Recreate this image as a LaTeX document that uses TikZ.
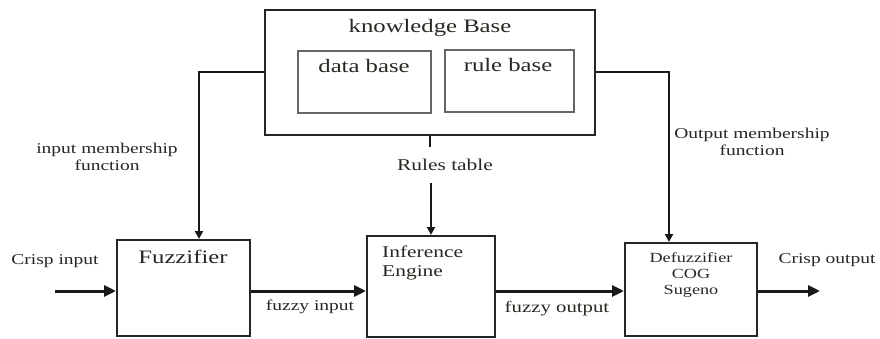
\documentclass[tikz,border=0pt]{standalone}
\usepackage{fontspec}
\setmainfont{Liberation Serif}[FakeStretch=1.3]
\usetikzlibrary{arrows.meta,calc}
\definecolor{txt}{HTML}{2A2622}
\begin{document}
\begin{tikzpicture}[x=1pt,y=-1pt,
  box/.style={draw=black!85,line width=2pt,inner sep=0pt},
  inbox/.style={draw=black!60,line width=1.2pt,inner sep=0pt},
  lbl/.style={text=txt,inner sep=0pt,anchor=base},
  flow/.style={draw=black!90,line width=3pt,-{Triangle[length=12pt,width=11pt]}},
  feed/.style={draw=black!90,line width=2pt,-{Triangle[length=8pt,width=8pt]}},
  wire/.style={draw=black!90,line width=2pt}]
\useasboundingbox (0,0) rectangle (880,339);

% knowledge base with its two stores
\node[box,minimum width=330pt,minimum height=125pt] (KB) at (430,72.5) {};
\node[inbox,minimum width=133pt,minimum height=62pt] (DB) at (364.5,82) {};
\node[inbox,minimum width=129pt,minimum height=62pt] (RB) at (509.5,81) {};
\node[lbl,font=\fontsize{19}{21}\selectfont] (KBt) at (430,33) {knowledge Base};
\node[lbl,font=\fontsize{19}{21}\selectfont] (DBt) at (364,73) {data base};
\node[lbl,font=\fontsize{19}{21}\selectfont] (RBt) at (508,72) {rule base};

% processing blocks
\node[box,minimum width=133pt,minimum height=96pt] (FZ) at (183.5,288) {};
\node[box,minimum width=128pt,minimum height=101pt] (IE) at (431,286.5) {};
\node[box,minimum width=132pt,minimum height=93pt] (DF) at (691,289.5) {};
\node[lbl,font=\fontsize{19}{21}\selectfont] (FZt) at (183,263) {Fuzzifier};
\node[text=txt,inner sep=0pt,anchor=west,align=left,font=\fontsize{16.5}{19}\selectfont] (IEt) at (382,262.6) {Inference\\Engine};
\node[text=txt,inner sep=0pt,align=center,font=\fontsize{14}{16}\selectfont] (DFt) at (691,274.7) {Defuzzifier\\COG\\Sugeno};

% side labels
\node[text=txt,inner sep=0pt,align=center,font=\fontsize{15}{17}\selectfont] (IM) at (107,156.4) {input membership\\function};
\node[text=txt,inner sep=0pt,align=center,font=\fontsize{15}{17}\selectfont] (OM) at (752,141.4) {Output membership\\function};
\node[lbl,font=\fontsize{16.5}{19}\selectfont,inner ysep=12pt] (RT) at (445,171) {Rules table};
\node[lbl,font=\fontsize{15}{17}\selectfont] (CI) at (55,264) {Crisp input};
\node[lbl,font=\fontsize{15}{17}\selectfont] (FI) at (310,310) {fuzzy input};
\node[lbl,font=\fontsize{16}{18}\selectfont] (FO) at (557,312) {fuzzy output};
\node[lbl,font=\fontsize{15}{17}\selectfont] (CO) at (827,263) {Crisp output};

% feeds from the knowledge base
\draw[feed] (KB.west) -| ([xshift=15.5pt]FZ.north);
\draw[feed] (KB.east) -| ([xshift=-22pt]DF.north);
\draw[wire] (KB.south) -- (KB.south |- RT.north);
\draw[feed] (RT.south -| IE.north) -- (IE.north);

% main signal path
\coordinate (cin) at (55,291);
\coordinate (cout) at (820,291);
\draw[flow] (cin) -- (cin -| FZ.west);
\draw[flow] (cin -| FZ.east) -- (cin -| IE.west);
\draw[flow] (cin -| IE.east) -- (cin -| DF.west);
\draw[flow] (cin -| DF.east) -- (cout);
\end{tikzpicture}
\end{document}
